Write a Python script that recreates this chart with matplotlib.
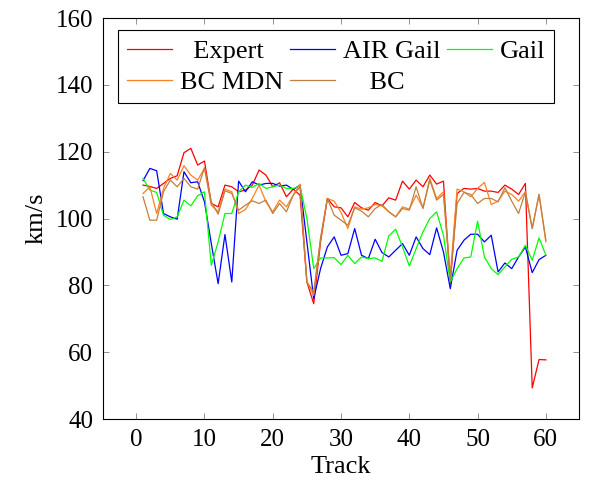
import numpy as np
import matplotlib.pyplot as plt

plt.rcParams['font.family'] = ['Liberation Serif', 'DejaVu Serif']

track = np.arange(1, 61)

expert = [110, 109.6, 109, 110.5, 112, 112.8, 119.7, 121, 116, 117.2,
          104.5, 103.5, 110, 109.5, 108, 108.5, 110, 114.5, 113, 109.5,
          110.7, 106.5, 108.8, 107, 81, 74.5, 93, 106, 103.5, 103.2,
          100.5, 104.8, 103.2, 102.5, 104.8, 103.8, 106.2, 105.5, 111.2, 108.8,
          111.5, 109.5, 113, 110.3, 111.2, 80.5, 107.5, 109, 108.8, 109,
          108.2, 108.2, 107.8, 110, 108.8, 107.2, 110.5, 49.3, 57.8, 57.7]

air_gail = [111.3, 115, 114.3, 101.5, 100.5, 99.8, 114, 110.7, 111, 105,
            92.5, 80.5, 95.2, 81, 111.2, 108, 111, 110, 110.5, 110.5,
            109.7, 110, 108.7, 110, 93, 76, 85, 91.5, 94.5, 89,
            89.5, 97, 89, 88, 93.8, 89.8, 88.5, 90.5, 92.5, 89,
            94.5, 91, 89.2, 97.2, 90, 79, 90.5, 93.5, 95.3, 95.3,
            93, 95, 84, 86.7, 85, 88.5, 91.5, 83.8, 87.7, 89]

gail = [112, 108.5, 107.8, 101, 99.7, 100.5, 105.5, 103.8, 106.8, 108,
        86, 93, 101.5, 101.5, 108, 110, 109.3, 110.5, 109, 109.5,
        110, 109, 109, 109.7, 100, 85, 88.2, 88.2, 88.3, 86.2,
        89, 86.5, 88.5, 88, 88.2, 87.2, 94.8, 96.8, 91.5, 85.8,
        91, 96, 100, 102, 95, 81, 85, 88.2, 88.5, 99.2,
        88.5, 85, 83.2, 85.5, 87.8, 88.5, 92, 87.5, 94.2, 89]

bc_mdn = [107.5, 109.5, 101.5, 109, 113.5, 111.5, 115.8, 113, 111.5, 115,
          104, 102, 108.8, 108, 101.5, 102.7, 106, 110, 105, 102,
          105.5, 103.5, 107, 110.3, 81, 77, 94, 106, 105.2, 101.8,
          97, 103.5, 102.8, 103.2, 104.2, 103.8, 102, 100.5, 103.5, 102.8,
          107, 103.2, 112, 106, 108, 83, 108.8, 108, 106.5, 109,
          110.8, 104.2, 105.2, 108.2, 107.2, 105.2, 108, 97, 107.2, 93]

bc = [106.5, 99.5, 99.5, 108, 111.5, 109.5, 112, 109.5, 108.8, 115.2,
      105, 101.3, 108.3, 107.5, 102.5, 104, 105.3, 104.5, 105.5, 101.5,
      104.5, 102, 107, 109.5, 81, 78, 94, 106, 101, 99.5,
      98, 103.2, 102.2, 100.5, 103, 104.2, 102, 100.5, 103, 102.5,
      109.5, 103, 111.5, 105.5, 107.2, 82, 104.5, 107.8, 107.2, 104.5,
      106, 106, 105, 109.2, 105.2, 101.5, 108, 97, 107.2, 93.5]

fig = plt.figure(figsize=(5.89, 4.87), dpi=100)
ax = fig.add_axes([0.175, 0.1396, 0.808, 0.8234])

lw = 0.9
l_exp, = ax.plot(track, expert, color='#ff0000', lw=lw, label='  Expert')
l_air, = ax.plot(track, air_gail, color='#0000ff', lw=lw, label='AIR Gail')
l_gail, = ax.plot(track, gail, color='#00ff00', lw=lw, label='Gail')
l_mdn, = ax.plot(track, bc_mdn, color='#ff8020', lw=lw, label='BC MDN')
l_bc, = ax.plot(track, bc, color='#bf8040', lw=lw, label='    BC')

ax.set_xlim(-4.85, 64.85)
ax.set_ylim(40, 160)
ax.set_xticks(range(0, 61, 10))
ax.set_yticks(range(40, 161, 20))
ax.tick_params(direction='in', top=True, right=True, length=4, width=0.6,
               color='#808080', labelsize=18, pad=7)
for s in ax.spines.values():
    s.set_linewidth(0.8)

ax.set_xlabel('Track', fontsize=19, labelpad=4)
ax.set_ylabel('km/s', fontsize=19, labelpad=6)

# legend is filled column by column, so order the handles to read row by row
handles = [l_exp, l_mdn, l_air, l_bc, l_gail]
leg = ax.legend(handles=handles, labels=[h.get_label() for h in handles],
                ncol=3, loc='upper left', bbox_to_anchor=(0.031, 0.970),
                fontsize=19, frameon=True, fancybox=False, framealpha=1,
                edgecolor='black', handlelength=1.7, handletextpad=0.3,
                columnspacing=0.25, borderpad=0.35, labelspacing=0.3,
                borderaxespad=0)
leg.get_frame().set_linewidth(0.8)

fig.savefig('out.png', dpi=100)
